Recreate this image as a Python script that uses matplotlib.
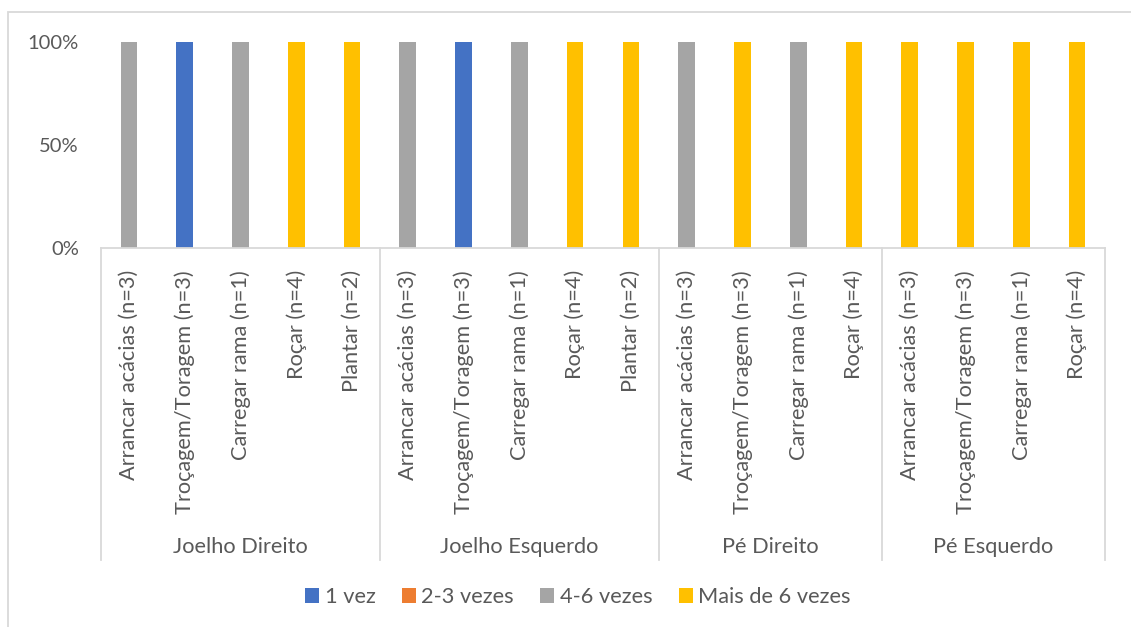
import numpy as np
import matplotlib.pyplot as plt
from matplotlib.patches import Patch, Rectangle

plt.rcParams['font.family'] = ['Lato', 'DejaVu Sans']

# categories, grouped by body part
groups = ['Joelho Direito', 'Joelho Esquerdo', 'Pé Direito', 'Pé Esquerdo']
group_tasks = [
    ['Arrancar acácias (n=3)', 'Troçagem/Toragem (n=3)', 'Carregar rama (n=1)', 'Roçar (n=4)', 'Plantar (n=2)'],
    ['Arrancar acácias (n=3)', 'Troçagem/Toragem (n=3)', 'Carregar rama (n=1)', 'Roçar (n=4)', 'Plantar (n=2)'],
    ['Arrancar acácias (n=3)', 'Troçagem/Toragem (n=3)', 'Carregar rama (n=1)', 'Roçar (n=4)'],
    ['Arrancar acácias (n=3)', 'Troçagem/Toragem (n=3)', 'Carregar rama (n=1)', 'Roçar (n=4)'],
]

series = ['1 vez', '2-3 vezes', '4-6 vezes', 'Mais de 6 vezes']
colors = ['#4472c4', '#ed7d31', '#a5a5a5', '#ffc000']

# share (%) per category, in category order
vez_1 = [0, 100, 0, 0, 0,   0, 100, 0, 0, 0,   0, 0, 0, 0,   0, 0, 0, 0]
vezes_2_3 = [0, 0, 0, 0, 0,   0, 0, 0, 0, 0,   0, 0, 0, 0,   0, 0, 0, 0]
vezes_4_6 = [100, 0, 100, 0, 0,   100, 0, 100, 0, 0,   100, 0, 100, 0,   0, 0, 0, 0]
vezes_mais6 = [0, 0, 0, 100, 100,   0, 0, 0, 100, 100,   0, 100, 0, 100,   100, 100, 100, 100]
values = [vez_1, vezes_2_3, vezes_4_6, vezes_mais6]

labels = [t for tasks in group_tasks for t in tasks]
n = len(labels)
x = np.arange(n)

W, H = 1131, 627
fig = plt.figure(figsize=(W / 100, H / 100), dpi=100)
ax = fig.add_axes([101 / W, 1 - 248 / H, (1105 - 101) / W, (248 - 42) / H])

txt = '#595959'
line = '#d9d9d9'
fs = 15.7

totals = np.sum(values, axis=0)
bottom = np.zeros(n)
for name, vals, c in zip(series, values, colors):
    share = np.array(vals) / totals
    ax.bar(x, share, width=0.3, bottom=bottom, color=c, label=name)
    bottom += share

ax.set_xlim(-0.5, n - 0.5)
ax.set_ylim(0, 1)
ax.set_yticks([0, 0.5, 1])
ax.set_yticklabels(['0%', '50%', '100%'], fontsize=14.5, color=txt)
ax.tick_params(axis='y', length=0, pad=16)
ax.set_xticks(x)
ax.set_xticklabels(labels, rotation=90, fontsize=fs, color=txt, va='top')
ax.tick_params(axis='x', length=0, pad=16)
for s in ['top', 'right', 'left']:
    ax.spines[s].set_visible(False)
ax.spines['bottom'].set_color(line)
ax.spines['bottom'].set_linewidth(1.3)

# group separators and labels
trans = ax.get_xaxis_transform()
y_low = (248 - 560) / (248 - 42)
y_grp = (248 - 547) / (248 - 42)
start = 0
edges = [-0.5]
for g, tasks in zip(groups, group_tasks):
    end = start + len(tasks)
    edges.append(end - 0.5)
    ax.text((start + end - 1) / 2, y_grp, g, transform=trans, ha='center', va='center',
            fontsize=fs, color=txt)
    start = end
for e in edges:
    ax.plot([e, e], [0, y_low], transform=trans, color=line, lw=1.3, clip_on=False)

handles = [Patch(facecolor=c, label=s) for s, c in zip(series, colors)]
fig.legend(handles=handles, loc='center', bbox_to_anchor=(0.511, 1 - 597 / H), ncol=4,
           frameon=False, fontsize=fs, labelcolor=txt, handlelength=0.65, handleheight=0.65,
           handletextpad=0.25, columnspacing=1.2)

fig.add_artist(Rectangle((8 / W, -0.05), 1.0, 1.05 - 12 / H, transform=fig.transFigure,
                         fill=False, edgecolor=line, lw=1.3))

fig.savefig('out.png', dpi=100)
